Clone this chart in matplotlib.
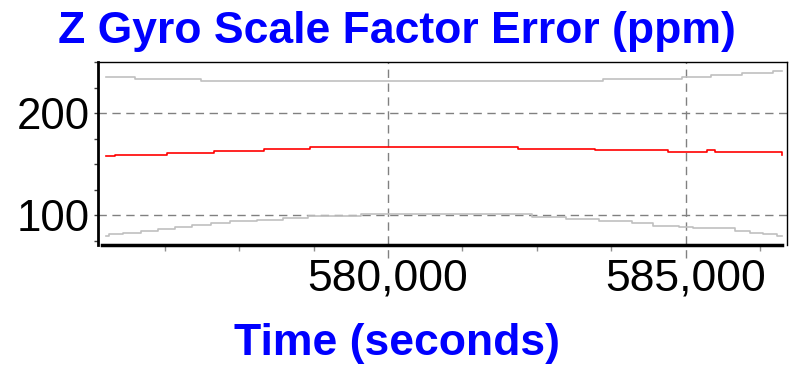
import matplotlib
matplotlib.use("Agg")
import matplotlib.pyplot as plt
from matplotlib.ticker import MultipleLocator, StrMethodFormatter

plt.rcParams['font.family'] = ['Liberation Sans', 'DejaVu Sans']

# Scale factor estimate (red) and its error bounds (gray), step changes
est_t = [575268, 575419, 576292, 577080, 577919, 578691, 582181,
         583473, 584698, 585353, 585487, 586590, 586611]
est_v = [157.5, 159.1, 161.1, 163.0, 164.7, 166.7, 165.0,
         163.4, 161.5, 163.4, 161.5, 161.5, 159.1]

upper_t = [575268, 575755, 576862, 583608, 584933, 585420, 585940, 586460, 586611]
upper_v = [235.6, 233.6, 231.4, 233.3, 235.6, 237.3, 238.9, 241.5, 241.5]

lower_t = [575268, 575318, 575553, 575855, 576141, 576426, 576711, 577030,
           577349, 577802, 578238, 578658, 579547, 582416, 582987, 583541,
           584094, 584447, 584883, 585118, 585823, 586074, 586293, 586527, 586611]
lower_v = [79.4, 81.1, 82.6, 84.6, 86.6, 88.5, 90.5, 92.2,
           93.8, 95.4, 97.1, 99.0, 100.8, 98.3, 96.1, 94.1,
           91.9, 89.5, 88.5, 87.0, 84.6, 82.6, 81.1, 79.4, 79.4]

x_major = [580000, 585000]
y_major = [100, 200]

fig = plt.figure(figsize=(7.93, 3.68), dpi=100)
ax = fig.add_axes([98 / 793, 1 - 245 / 368, (787 - 98) / 793, (245 - 62) / 368])

ax.plot(upper_t, upper_v, drawstyle='steps-post', color='#c0c0c0', lw=1.2)
ax.plot(lower_t, lower_v, drawstyle='steps-post', color='#c0c0c0', lw=1.2)
ax.plot(est_t, est_v, drawstyle='steps-post', color='#ff0000', lw=1.2)

ax.set_xlim(575134, 586695)
ax.set_ylim(70.6, 250)

# dashed grid; vertical lines run a bit below the axis
for yv in y_major:
    ax.axhline(yv, color='#808080', lw=1, ls=(0, (6, 4)), zorder=0)
xt = ax.get_xaxis_transform()
for xv in x_major:
    ax.plot([xv, xv], [-0.07, 1], transform=xt, color='#808080', lw=1,
            ls=(0, (6, 4)), clip_on=False, zorder=0)

ax.set_xticks(x_major)
ax.xaxis.set_minor_locator(MultipleLocator(1250))
ax.xaxis.set_major_formatter(StrMethodFormatter('{x:,.0f}'))
ax.set_yticks(y_major)
ax.yaxis.set_minor_locator(MultipleLocator(25))

ax.tick_params(axis='x', which='major', length=0, pad=10, labelsize=32)
ax.tick_params(axis='x', which='minor', length=4.5, width=1, color='#909090')
ax.tick_params(axis='y', which='both', length=3, width=1, color='#404040',
               pad=3, labelsize=31.5)

for side in ['top', 'right']:
    ax.spines[side].set_linewidth(1)
ax.spines['left'].set_linewidth(2)
ax.spines['bottom'].set_linewidth(2.5)
ax.spines['bottom'].set_bounds(575200, 586611)

fig.text(0.5, 1 - 42.7 / 368, 'Z Gyro Scale Factor Error (ppm)', ha='center',
         va='baseline', fontsize=32, fontweight='bold', color='#0000ff')
fig.text(0.5, 1 - 355 / 368, 'Time (seconds)', ha='center', va='baseline',
         fontsize=32, fontweight='bold', color='#0000ff')

fig.savefig('out.png', dpi=100)
